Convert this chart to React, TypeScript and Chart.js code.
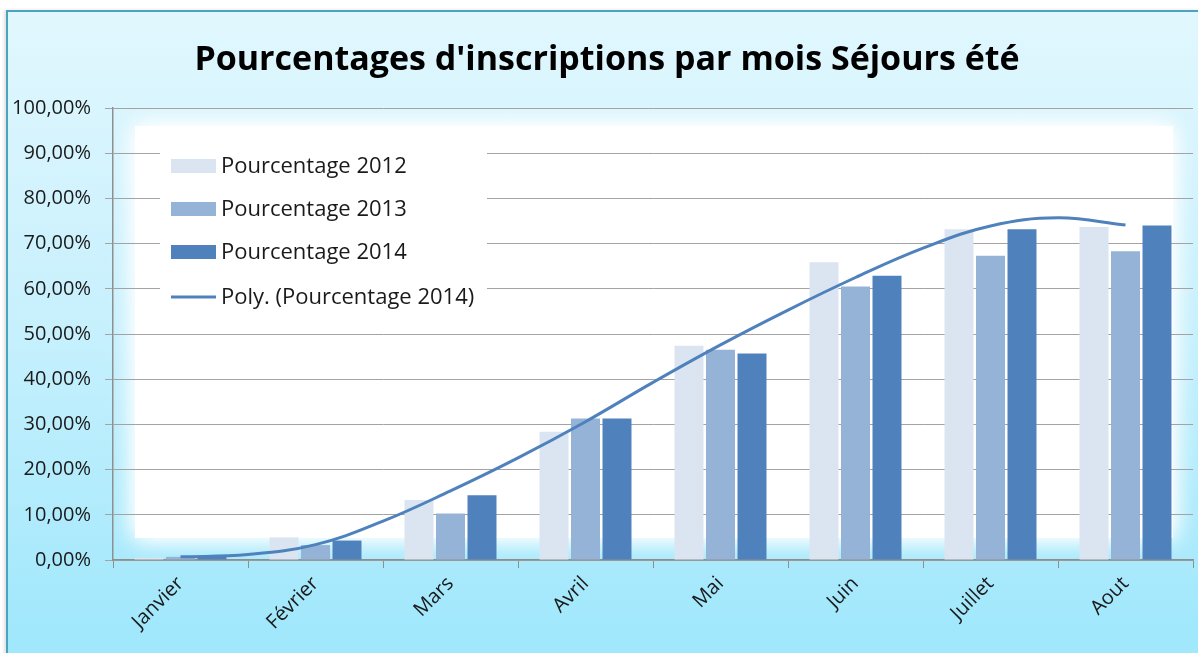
import React, { useEffect, useRef } from "react";
import { Chart, registerables } from "chart.js";

Chart.register(...registerables);

const categories = ["Janvier", "Février", "Mars", "Avril", "Mai", "Juin", "Juillet", "Aout"];
const pct2012 = [0.5, 5.0, 13.3, 28.4, 47.4, 65.9, 73.2, 73.7];
const pct2013 = [0.7, 3.3, 10.3, 31.3, 46.5, 60.5, 67.3, 68.3];
const pct2014 = [0.9, 4.3, 14.3, 31.3, 45.7, 62.9, 73.2, 74.0];
// polynomial trend curve of 2014 at half-category steps
const trendPos = [0, 0.5, 1, 1.5, 2, 2.5, 3, 3.5, 4, 4.5, 5, 5.5, 6, 6.5, 7];
const trendVals = [0.7, 1.2, 3.4, 8.6, 15.3, 22.6, 30.6, 39.3, 47.6, 55.3, 62.5, 69.0, 73.9, 75.7, 74.1];
const seriesNames = ["Pourcentage 2012", "Pourcentage 2013", "Pourcentage 2014", "Poly. (Pourcentage 2014)"];
const titleText = "Pourcentages d'inscriptions par mois Séjours été";

const C2012 = "#dbe5f1";
const C2013 = "#95b3d7";
const C2014 = "#4f81bd";
const FONT = "'Open Sans', sans-serif";

const glowPlugin = {
  id: "glow",
  beforeDraw(chart: any) {
    const { ctx, chartArea: a } = chart;
    ctx.save();
    ctx.fillStyle = "#ffffff";
    ctx.shadowColor = "#ffffff";
    ctx.shadowBlur = 22;
    for (let i = 0; i < 2; i++) {
      ctx.fillRect(a.left + 22, a.top + 18, a.right - a.left - 42, a.bottom - a.top - 40);
    }
    ctx.restore();
  },
};

const titlePlugin = {
  id: "customTitle",
  afterDraw(chart: any) {
    const { ctx } = chart;
    ctx.save();
    ctx.font = `bold 34px ${FONT}`;
    ctx.fillStyle = "#000000";
    ctx.textAlign = "center";
    ctx.textBaseline = "alphabetic";
    ctx.fillText(titleText, 607, 70);
    ctx.restore();
  },
};

const legendPlugin = {
  id: "customLegend",
  afterDraw(chart: any) {
    const { ctx, chartArea: a } = chart;
    ctx.save();
    ctx.fillStyle = "#ffffff";
    ctx.fillRect(a.left + 47, a.top + 32, 327, 178);
    const boxX = a.left + 58;
    const rowY = [a.top + 58, a.top + 101, a.top + 144, a.top + 189];
    const colors = [C2012, C2013, C2014];
    ctx.font = `22px ${FONT}`;
    ctx.textBaseline = "middle";
    ctx.textAlign = "left";
    for (let i = 0; i < 4; i++) {
      if (i < 3) {
        ctx.fillStyle = colors[i];
        ctx.fillRect(boxX, rowY[i] - 7, 45, 14);
      } else {
        ctx.strokeStyle = C2014;
        ctx.lineWidth = 3;
        ctx.beginPath();
        ctx.moveTo(boxX, rowY[i]);
        ctx.lineTo(boxX + 45, rowY[i]);
        ctx.stroke();
      }
      ctx.fillStyle = "#1a1a1a";
      ctx.fillText(seriesNames[i], boxX + 50, rowY[i] + 1);
    }
    ctx.restore();
  },
};

export default function App() {
  const ref = useRef<HTMLCanvasElement>(null);
  useEffect(() => {
    if (!ref.current) return;
    const chart = new Chart(ref.current, {
      type: "bar",
      data: {
        labels: categories,
        datasets: [
          { label: seriesNames[0], data: pct2012, backgroundColor: C2012, categoryPercentage: 0.7, barPercentage: 0.92, order: 2 },
          { label: seriesNames[1], data: pct2013, backgroundColor: C2013, categoryPercentage: 0.7, barPercentage: 0.92, order: 2 },
          { label: seriesNames[2], data: pct2014, backgroundColor: C2014, categoryPercentage: 0.7, barPercentage: 0.92, order: 2 },
          {
            type: "line",
            label: seriesNames[3],
            data: trendPos.map((p, i) => ({ x: p, y: trendVals[i] })),
            parsing: false,
            normalized: true,
            borderColor: C2014,
            borderWidth: 3,
            pointRadius: 0,
            tension: 0.4,
            fill: false,
            order: 1,
          } as any,
        ],
      },
      options: {
        responsive: false,
        animation: false,
        devicePixelRatio: 1,
        layout: { padding: { top: 108, right: 5, left: 0, bottom: 0 } },
        plugins: {
          legend: { display: false },
          title: { display: false },
          tooltip: { enabled: false },
        },
        scales: {
          x: {
            type: "category",
            offset: true,
            grid: { display: true, drawOnChartArea: false, drawTicks: true, tickLength: 8, color: "#8f8f8f", offset: true },
            border: { color: "#8f8f8f", width: 1.5 },
            ticks: {
              minRotation: 45,
              maxRotation: 45,
              padding: 4,
              color: "#1a1a1a",
              font: { family: FONT, size: 20 },
            },
            afterFit(scale: any) {
              scale.height = 93;
            },
          },
          y: {
            min: 0,
            max: 100,
            ticks: {
              stepSize: 10,
              padding: 14,
              color: "#1a1a1a",
              font: { family: FONT, size: 20 },
              callback: (v: any) => Number(v).toFixed(2).replace(".", ",") + "%",
            },
            grid: { color: "#a3a3a3", lineWidth: 1, tickLength: 8 },
            border: { color: "#8f8f8f", width: 1.5 },
            afterFit(scale: any) {
              scale.width = 113;
            },
          },
        },
      },
      plugins: [glowPlugin, legendPlugin, titlePlugin],
    } as any);
    return () => chart.destroy();
  }, []);

  return (
    <div style={{ position: "absolute", left: 0, top: 0, width: 1198, height: 653, overflow: "hidden", background: "#ffffff" }}>
      <div
        style={{
          position: "absolute",
          left: 6,
          top: 10,
          width: 1260,
          height: 720,
          border: "2px solid #4ba3c0",
          boxShadow: "-2px 0 3px rgba(0,0,0,0.12)",
          background: "linear-gradient(to bottom, #e1f7fe 0%, #c6f0fd 45%, #a2e8fc 85%, #a0e8fc 100%)",
        }}
      />
      <canvas ref={ref} width={1198} height={653} style={{ position: "absolute", left: 0, top: 0, width: 1198, height: 653 }} />
    </div>
  );
}
